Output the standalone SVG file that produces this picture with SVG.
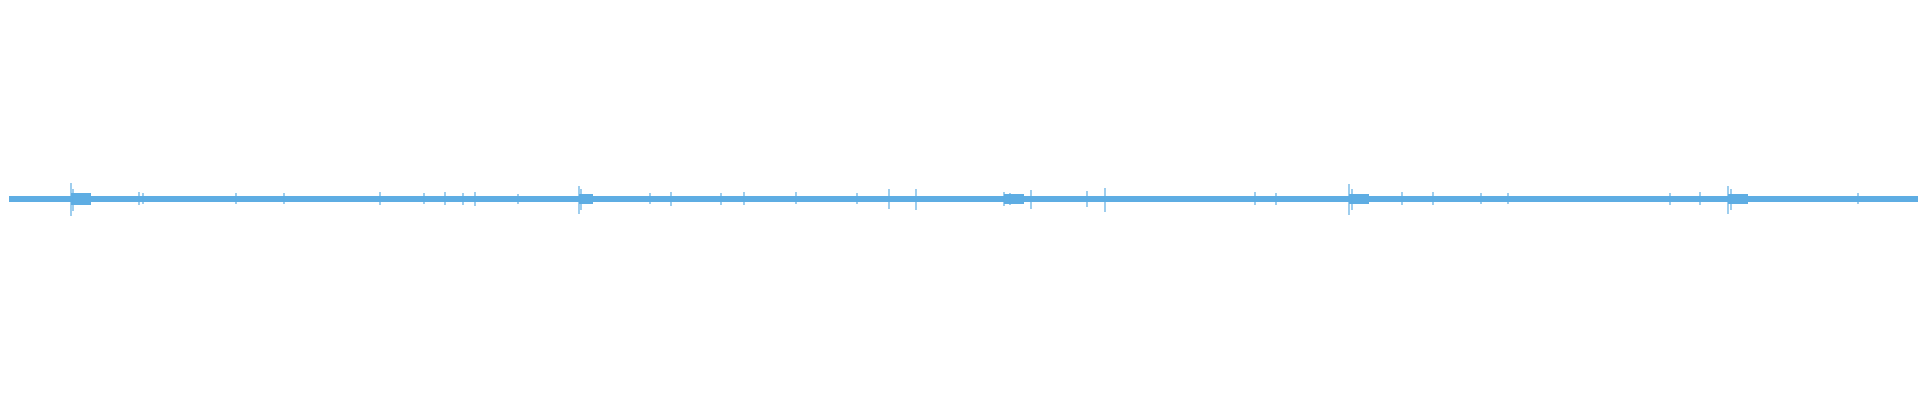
<svg xmlns="http://www.w3.org/2000/svg" width="1920" height="400" viewBox="0 0 1920 400">
<style>.w{stroke:#5eade3;stroke-width:1.2;fill:none}</style>
<rect width="1920" height="400" fill="#fff"/>
<g id="waveform">
<rect x="9" y="196" width="1909" height="6" fill="#5eade3"/>
<rect x="71" y="193" width="20" height="12" fill="#5eade3"/>
<rect x="579" y="194" width="14" height="10" fill="#5eade3"/>
<rect x="1004" y="194" width="20" height="10" fill="#5eade3"/>
<rect x="1349" y="194" width="20" height="10" fill="#5eade3"/>
<rect x="1728" y="194" width="20" height="10" fill="#5eade3"/>
<path class="w" d="M71 183V216M73 189V211M139 192V205M143 193V204M236 193V204M284 193V204M380 192V205M424 193V204M445 192V205M463 193V205M475 192V206M518 194V204M579 186V214M581 189V210M650 193V204M671 192V206M721 193V205M744 192V205M796 192V204M857 193V204M889 189V209M916 189V210M1004 192V206M1010 193V205M1031 190V209M1087 191V207M1105 188V212M1255 192V205M1276 193V205M1349 184V215M1352 189V210M1402 192V205M1433 192V205M1481 193V204M1508 193V204M1670 193V205M1700 192V205M1728 186V214M1731 189V210M1858 193V204"/>
</g>
</svg>
